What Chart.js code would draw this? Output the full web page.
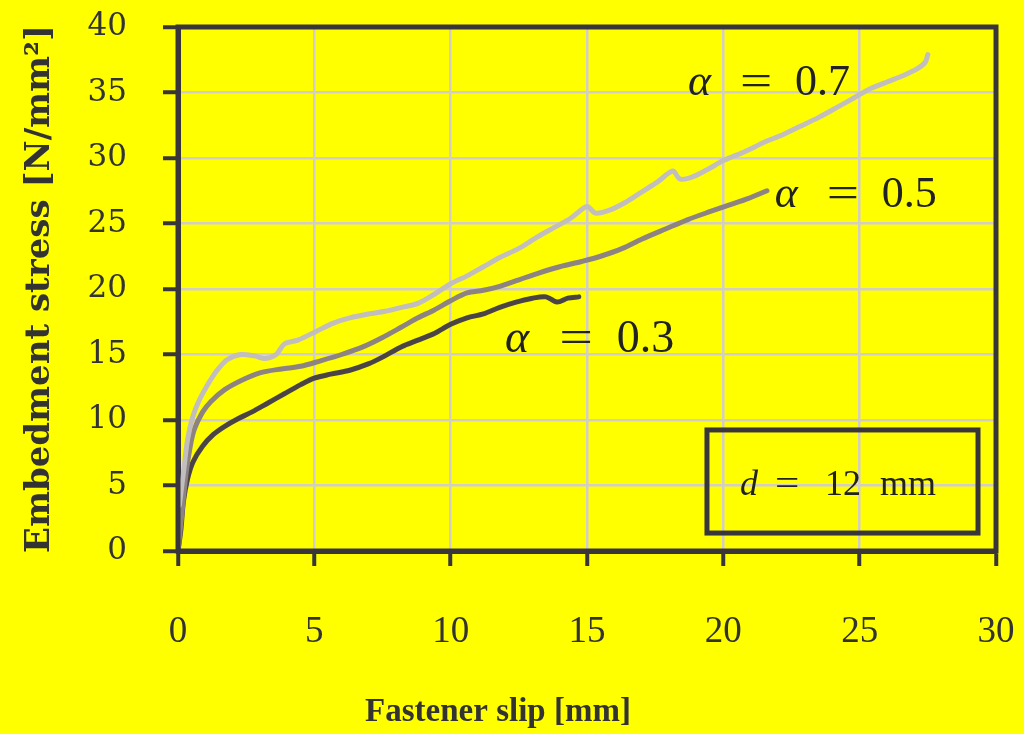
<!DOCTYPE html>
<html>
<head>
<meta charset="utf-8">
<script src="https://cdn.jsdelivr.net/npm/chart.js@4"></script>
<style>
  html, body { margin: 0; padding: 0; background: #ffff00; }
  #wrap { width: 1024px; height: 734px; position: relative; }
</style>
</head>
<body>
<div id="wrap"><canvas id="c"></canvas></div>
<script>
// ---- data ----
const slip03   = [0, 0.1, 0.2, 0.35, 0.55, 0.9, 1.3, 1.7, 2.2, 2.7, 3.3, 3.9, 4.5, 5.0, 5.6, 6.3, 7.0, 7.5, 8.2, 8.8, 9.4, 10.0, 10.6, 11.2, 11.8, 12.4, 13.0, 13.5, 13.9, 14.3, 14.7];
const stress03 = [0, 1.5, 3.8, 5.5, 6.8, 8.0, 8.9, 9.5, 10.1, 10.6, 11.3, 12.0, 12.7, 13.2, 13.5, 13.8, 14.3, 14.8, 15.6, 16.1, 16.6, 17.3, 17.8, 18.1, 18.6, 19.0, 19.3, 19.4, 19.0, 19.3, 19.4];

const slip05   = [0, 0.15, 0.3, 0.45, 0.6, 0.9, 1.2, 1.7, 2.3, 3.0, 3.8, 4.5, 5.2, 6.0, 6.8, 7.5, 8.2, 8.8, 9.4, 10.0, 10.6, 11.2, 11.8, 12.5, 13.2, 14.0, 14.8, 15.5, 16.3, 17.0, 17.9, 18.7, 19.5, 20.2, 20.9, 21.6];
const stress05 = [0, 3.0, 6.0, 8.0, 9.3, 10.6, 11.4, 12.3, 13.0, 13.6, 13.9, 14.1, 14.5, 15.0, 15.6, 16.3, 17.1, 17.8, 18.4, 19.1, 19.7, 19.9, 20.2, 20.7, 21.2, 21.7, 22.1, 22.5, 23.1, 23.8, 24.6, 25.3, 25.9, 26.4, 26.9, 27.5];

const slip07   = [0.05, 0.2, 0.35, 0.55, 0.8, 1.06, 1.4, 1.8, 2.3, 2.8, 3.2, 3.6, 3.9, 4.4, 5.1, 5.7, 6.3, 7.0, 7.6, 8.2, 8.8, 9.4, 10.0, 10.6, 11.2, 11.8, 12.5, 13.2, 13.8, 14.4, 15.0, 15.3, 15.8, 16.4, 17.0, 17.6, 18.15, 18.4, 18.8, 19.4, 20.0, 20.8, 21.5, 22.2, 22.8, 23.5, 24.2, 24.8, 25.3, 26.0, 26.6, 27.1, 27.4, 27.5];
const stress07 = [3.5, 6.0, 8.5, 10.3, 11.6, 12.6, 13.7, 14.6, 15.0, 14.9, 14.7, 15.0, 15.8, 16.1, 16.8, 17.4, 17.8, 18.1, 18.3, 18.6, 18.9, 19.6, 20.4, 21.0, 21.7, 22.4, 23.1, 24.0, 24.7, 25.4, 26.3, 25.8, 26.0, 26.6, 27.4, 28.2, 29.0, 28.4, 28.5, 29.1, 29.8, 30.5, 31.2, 31.8, 32.4, 33.1, 33.9, 34.6, 35.2, 35.8, 36.3, 36.8, 37.3, 37.9];

const seriesNames = ['α = 0.3', 'α = 0.5', 'α = 0.7'];
const xTicks = [0, 5, 10, 15, 20, 25, 30];
const yTicks = [0, 5, 10, 15, 20, 25, 30, 35, 40];
const xTitle = 'Fastener slip [mm]';
const yTitle = 'Embedment stress [N/mm²]';
const boxText = ['d', '=', '12', 'mm'];

function pts(xs, ys) { return xs.map((x, i) => ({ x: x, y: ys[i] })); }

const AXIS = '#38363b';
const GRID = '#d2cdc8';
const TXT = '#333333';

// annotation and frame plugin
const annot = {
  id: 'annot',
  afterDraw(chart) {
    const { ctx, chartArea: a, scales: { x, y } } = chart;
    ctx.save();
    // frame
    ctx.strokeStyle = AXIS;
    ctx.lineWidth = 5;
    ctx.strokeRect(a.left, a.top, a.right - a.left, a.bottom - a.top);

    // series labels
    const labels = [
      { name: seriesNames[2], x: 18.70, y: 34.81, size: 44 },
      { name: seriesNames[1], x: 21.89, y: 26.26, size: 44 },
      { name: seriesNames[0], x: 11.99, y: 15.19, size: 46 }
    ];
    ctx.fillStyle = '#222';
    ctx.textBaseline = 'alphabetic';
    ctx.textAlign = 'left';
    labels.forEach(l => {
      const px = x.getPixelForValue(l.x), py = y.getPixelForValue(l.y);
      const parts = l.name.split(' '); // ['α','=','0.x']
      const k = l.size / 44;
      ctx.font = 'italic ' + l.size + 'px "Liberation Serif"';
      ctx.fillText(parts[0], px, py);
      ctx.font = l.size + 'px "Liberation Serif"';
      ctx.save();
      ctx.translate(px + 52 * k, py);
      ctx.scale(1.3, 1);
      ctx.fillText(parts[1], 0, 0);
      ctx.restore();
      ctx.fillText(parts[2], px + 107 * k, py);
    });

    // d = 12 mm box
    const bx0 = x.getPixelForValue(19.40), bx1 = x.getPixelForValue(29.34);
    const by0 = y.getPixelForValue(9.24), by1 = y.getPixelForValue(1.37);
    ctx.lineWidth = 5;
    ctx.strokeStyle = AXIS;
    ctx.strokeRect(bx0, by0, bx1 - bx0, by1 - by0);
    const tx = x.getPixelForValue(20.61), ty = y.getPixelForValue(4.27);
    ctx.font = 'italic 36px "Liberation Serif"';
    ctx.fillText(boxText[0], tx, ty);
    ctx.font = '36px "Liberation Serif"';
    ctx.save(); ctx.translate(tx + 35, ty); ctx.scale(1.2, 1); ctx.fillText(boxText[1], 0, 0); ctx.restore();
    ctx.fillText(boxText[2], tx + 85, ty);
    ctx.fillText(boxText[3], tx + 140, ty);
    ctx.restore();
  }
};

const bgPlugin = {
  id: 'bg',
  beforeDraw(chart) {
    const { ctx, width, height } = chart;
    ctx.save();
    ctx.fillStyle = '#ffff00';
    ctx.fillRect(0, 0, width, height);
    ctx.restore();
  }
};

new Chart(document.getElementById('c'), {
  type: 'line',
  data: {
    datasets: [
      { label: seriesNames[2], data: pts(slip07, stress07), borderColor: '#c3bebe', borderWidth: 5 },
      { label: seriesNames[1], data: pts(slip05, stress05), borderColor: '#8d8383', borderWidth: 5 },
      { label: seriesNames[0], data: pts(slip03, stress03), borderColor: '#4b4447', borderWidth: 5 }
    ]
  },
  options: {
    responsive: true,
    maintainAspectRatio: false,
    devicePixelRatio: 1,
    animation: false,
    parsing: false,
    elements: { point: { radius: 0 }, line: { tension: 0.3, borderCapStyle: 'round', borderJoinStyle: 'round' } },
    layout: { padding: { left: 0, right: 28, top: 27, bottom: 0 } },
    plugins: {
      legend: { display: false },
      tooltip: { enabled: false },
      title: {
        display: true,
        position: 'bottom',
        text: xTitle,
        color: TXT,
        font: { family: '"Liberation Serif"', size: 33, weight: 'bold' },
        padding: { top: 0, bottom: 2 }
      }
    },
    scales: {
      x: {
        type: 'linear',
        min: 0, max: 30,
        afterFit(s) { s.height = 141.4; s.paddingLeft = 0; s.paddingRight = 0; },
        afterBuildTicks(s) { s.ticks = xTicks.map(v => ({ value: v })); },
        grid: { color: GRID, lineWidth: 2.5, tickLength: 15, tickColor: AXIS, tickWidth: 4 },
        border: { display: true, color: AXIS, width: 5 },
        ticks: { color: TXT, padding: 44, font: { family: '"Liberation Serif"', size: 37 }, maxRotation: 0 }
      },
      y: {
        type: 'linear',
        min: 0, max: 40,
        afterFit(s) { s.width = 178; s.paddingTop = 0; s.paddingBottom = 0; },
        afterBuildTicks(s) { s.ticks = yTicks.map(v => ({ value: v })); },
        grid: { color: GRID, lineWidth: 2.5, tickLength: 15, tickColor: AXIS, tickWidth: 4 },
        border: { display: true, color: AXIS, width: 5 },
        ticks: { color: TXT, padding: 36, font: { family: '"DejaVu Serif"', size: 31 } },
        title: {
          display: true,
          text: yTitle,
          color: TXT,
          font: { family: '"DejaVu Serif"', size: 34, weight: 'bold' },
          padding: { top: 20, bottom: 0 }
        }
      }
    }
  },
  plugins: [bgPlugin, annot]
});
</script>
</body>
</html>
